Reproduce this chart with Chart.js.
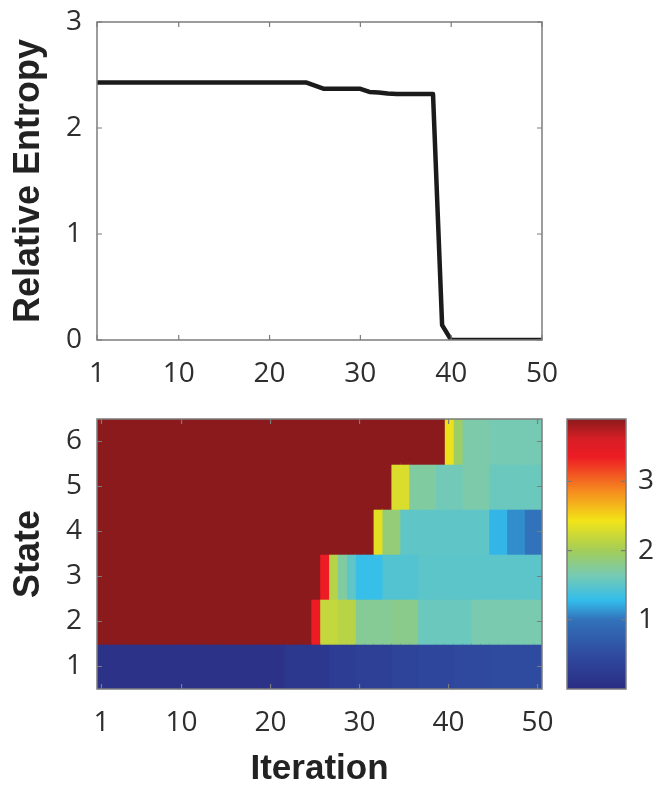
<!DOCTYPE html>
<html><head><meta charset="utf-8">
<script src="https://cdn.jsdelivr.net/npm/chart.js@4.4.1/dist/chart.umd.min.js"></script>
<style>
html,body{margin:0;padding:0;background:#fff;}
#wrap{position:relative;width:658px;height:787px;overflow:hidden;background:#fff;}
canvas{position:absolute;display:block;}
</style></head><body>
<div id="wrap">
<canvas id="lineChart" width="658" height="400" style="left:0;top:0;width:658px;height:400px"></canvas>
<canvas id="heatChart" width="658" height="387" style="left:0;top:400px;width:658px;height:387px"></canvas>
<canvas id="barChart" width="110" height="387" style="left:548px;top:400px;width:110px;height:387px"></canvas>
</div>
<script>
// ---------- data ----------
const iterations = [1,2,3,4,5,6,7,8,9,10,11,12,13,14,15,16,17,18,19,20,21,22,23,24,25,26,27,28,29,30,31,32,33,34,35,36,37,38,39,40,41,42,43,44,45,46,47,48,49,50];
const xTickValues = [1,10,20,30,40,50];
const entropyTicks = [0,1,2,3];
const entropy = [2.43,2.43,2.43,2.43,2.43,2.43,2.43,2.43,2.43,2.43,2.43,2.43,2.43,2.43,2.43,2.43,2.43,2.43,2.43,2.43,2.43,2.43,2.43,2.43,
  2.40,2.37,2.37,2.37,2.37,2.37,2.34,2.335,2.325,2.32,2.32,2.32,2.32,2.32,0.14,
  0,0,0,0,0,0,0,0,0,0,0];
const states = ['1','2','3','4','5','6'];
const state1 = [0.1,0.1,0.1,0.1,0.1,0.1,0.1,0.1,0.1,0.1,0.1,0.1,0.1,0.1,0.1,0.1,0.1,0.1,0.1,0.1,0.1,
  0.2,0.2,0.2,0.2,0.2,0.28,0.28,0.28,0.33,0.33,0.33,0.33,0.38,0.38,0.38,0.42,0.42,0.42,0.42,0.47,0.47,0.47,0.47,0.5,0.5,0.5,0.5,0.5,0.5];
const state2 = [3.9,3.9,3.9,3.9,3.9,3.9,3.9,3.9,3.9,3.9,3.9,3.9,3.9,3.9,3.9,3.9,3.9,3.9,3.9,3.9,3.9,3.9,3.9,3.9,
  3.35,2.18,2.18,2.12,2.12,1.76,1.76,1.76,1.76,1.8,1.8,1.8,1.58,1.58,1.58,1.58,1.58,1.58,1.66,1.66,1.66,1.66,1.66,1.66,1.66,1.66];
const state3 = [3.9,3.9,3.9,3.9,3.9,3.9,3.9,3.9,3.9,3.9,3.9,3.9,3.9,3.9,3.9,3.9,3.9,3.9,3.9,3.9,3.9,3.9,3.9,3.9,3.9,
  3.35,2.1,1.72,1.52,1.3,1.3,1.3,1.45,1.45,1.45,1.45,1.5,1.5,1.5,1.5,1.5,1.5,1.5,1.5,1.5,1.5,1.5,1.5,1.5,1.5];
const state4 = [3.9,3.9,3.9,3.9,3.9,3.9,3.9,3.9,3.9,3.9,3.9,3.9,3.9,3.9,3.9,3.9,3.9,3.9,3.9,3.9,3.9,3.9,3.9,3.9,3.9,3.9,3.9,3.9,3.9,3.9,3.9,
  2.35,1.88,1.88,1.52,1.52,1.52,1.52,1.52,1.52,1.52,1.52,1.52,1.52,1.25,1.25,1.1,1.1,1.0,1.0];
const state5 = [3.9,3.9,3.9,3.9,3.9,3.9,3.9,3.9,3.9,3.9,3.9,3.9,3.9,3.9,3.9,3.9,3.9,3.9,3.9,3.9,3.9,3.9,3.9,3.9,3.9,3.9,3.9,3.9,3.9,3.9,3.9,3.9,3.9,
  2.3,2.3,1.72,1.72,1.72,1.62,1.62,1.62,1.68,1.68,1.68,1.58,1.58,1.58,1.58,1.58,1.58];
const state6 = [3.9,3.9,3.9,3.9,3.9,3.9,3.9,3.9,3.9,3.9,3.9,3.9,3.9,3.9,3.9,3.9,3.9,3.9,3.9,3.9,3.9,3.9,3.9,3.9,3.9,3.9,3.9,3.9,3.9,3.9,3.9,3.9,3.9,3.9,3.9,3.9,3.9,3.9,3.9,
  2.4,1.95,1.68,1.68,1.68,1.64,1.64,1.64,1.64,1.64,1.64];
const colorbarTicks = [1,2,3];
const colorbarMax = 3.9;
const stopValues = [0, 0.5, 1.0, 1.28, 1.65, 2.0, 2.43, 2.87, 3.35, 3.6, 3.9];
const stopColors = ['#2a2c82','#2f4ba0','#3272ba','#33bdec','#78cab2','#a3cd58','#f2e418','#f6891f','#ed1c24','#d91e25','#8a1a1c'];

// ---------- helpers ----------
const stateValues = [state1,state2,state3,state4,state5,state6];
function hexToRgb(h){return [parseInt(h.slice(1,3),16),parseInt(h.slice(3,5),16),parseInt(h.slice(5,7),16)];}
function colormap(v){
  if (v <= stopValues[0]) return stopColors[0];
  for (let k=1;k<stopValues.length;k++){
    if (v <= stopValues[k]){
      const t=(v-stopValues[k-1])/(stopValues[k]-stopValues[k-1]);
      const a=hexToRgb(stopColors[k-1]), b=hexToRgb(stopColors[k]);
      const c=a.map((x,j)=>Math.round(x+(b[j]-x)*t));
      return 'rgb('+c.join(',')+')';
    }
  }
  return stopColors[stopColors.length-1];
}
const TICK_FONT = {family:'"Open Sans", "DejaVu Sans", sans-serif', size:28};
const TITLE_FONT_Y = {family:'"Liberation Sans", Arial, sans-serif', size:36, weight:'bold', lineHeight:1.2};
const TITLE_FONT_X = {family:'"Liberation Sans", Arial, sans-serif', size:35, weight:'bold', lineHeight:1.0};
const TICK_COLOR = '#2e2e2e';
const BOX_COLOR = '#7c7c7c';

function noPadY(s, w){ s.width = w; s.paddingTop = 0; s.paddingBottom = 0; }
function noPadX(s, h){ s.height = h; s.paddingLeft = 0; s.paddingRight = 0; }

const boxPlugin = {
  id:'boxTicks',
  afterDatasetsDraw(chart){
    const {ctx, chartArea:{left,right,top,bottom}} = chart;
    ctx.save();
    ctx.strokeStyle = BOX_COLOR; ctx.lineWidth = 1.5;
    ctx.strokeRect(left, top, right-left, bottom-top);
    ctx.lineWidth = 1.2;
    const L = 5;
    const xs = chart.scales.x, ys = chart.scales.y;
    if (xs && xs.options.display !== false){
      xs.ticks.forEach((t,i)=>{
        const p = xs.getPixelForTick(i);
        ctx.beginPath(); ctx.moveTo(p,bottom); ctx.lineTo(p,bottom-L);
        ctx.moveTo(p,top); ctx.lineTo(p,top+L); ctx.stroke();
      });
    }
    if (ys){
      ys.ticks.forEach((t,i)=>{
        const p = ys.getPixelForTick(i);
        ctx.beginPath(); ctx.moveTo(left,p); ctx.lineTo(left+L,p);
        ctx.moveTo(right,p); ctx.lineTo(right-L,p); ctx.stroke();
      });
    }
    ctx.restore();
  }
};

// ---------- line chart ----------
new Chart(document.getElementById('lineChart'), {
  type:'line',
  data:{ datasets:[{
    data: iterations.map((it,k)=>({x:it, y:entropy[k]})),
    borderColor:'#1b1b1b', borderWidth:4.5, pointRadius:0, tension:0,
    borderJoinStyle:'round', fill:false
  }]},
  options:{
    responsive:false, animation:false, events:[],
    layout:{padding:{top:22, right:116, left:0, bottom:0}},
    plugins:{legend:{display:false}, tooltip:{enabled:false}},
    scales:{
      x:{type:'linear', min:1, max:50,
        afterBuildTicks:(s)=>{s.ticks = xTickValues.map(v=>({value:v}));},
        afterFit:(s)=>noPadX(s,60),
        grid:{display:false, drawTicks:false}, border:{display:false},
        ticks:{font:TICK_FONT, color:TICK_COLOR, padding:17, maxRotation:0, autoSkip:false}},
      y:{type:'linear', min:0, max:3,
        afterBuildTicks:(s)=>{s.ticks = entropyTicks.map(v=>({value:v}));},
        afterFit:(s)=>noPadY(s,97),
        grid:{display:false, drawTicks:false}, border:{display:false},
        ticks:{font:TICK_FONT, color:TICK_COLOR, padding:15},
        title:{display:true, text:'Relative Entropy', font:TITLE_FONT_Y, color:'#222', padding:{top:7, bottom:0}}}
    }
  },
  plugins:[boxPlugin]
});

// ---------- heatmap ----------
const heatDatasets = iterations.map((it,i)=>({
  data: states.map(()=>[it-0.5, it+0.5]),
  backgroundColor: stateValues.map(arr=>colormap(arr[i])),
  borderWidth:0, grouped:false, barPercentage:1, categoryPercentage:1, inflateAmount:0.7
}));
new Chart(document.getElementById('heatChart'), {
  type:'bar',
  data:{labels:states, datasets:heatDatasets},
  options:{
    indexAxis:'y', responsive:false, animation:false, events:[],
    layout:{padding:{top:19, right:116, left:0, bottom:0}},
    plugins:{legend:{display:false}, tooltip:{enabled:false}},
    scales:{
      x:{type:'linear', min:0.5, max:50.5,
        afterBuildTicks:(s)=>{s.ticks = xTickValues.map(v=>({value:v}));},
        afterFit:(s)=>noPadX(s,98),
        grid:{display:false, drawTicks:false}, border:{display:false},
        ticks:{font:TICK_FONT, color:TICK_COLOR, padding:17, maxRotation:0, autoSkip:false},
        title:{display:true, text:'Iteration', font:TITLE_FONT_X, color:'#222', padding:{top:0,bottom:0}}},
      y:{type:'category', reverse:true, offset:true,
        afterFit:(s)=>noPadY(s,97),
        grid:{display:false, drawTicks:false, offset:true}, border:{display:false},
        ticks:{font:TICK_FONT, color:TICK_COLOR, padding:15},
        title:{display:true, text:'State', font:TITLE_FONT_Y, color:'#222', padding:{top:7, bottom:0}}}
    }
  },
  plugins:[boxPlugin]
});

// ---------- colorbar ----------
new Chart(document.getElementById('barChart'), {
  type:'bar',
  data:{labels:[''], datasets:[{
    data:[[0, colorbarMax]],
    backgroundColor:(c)=>{
      const ch=c.chart, ys=ch.scales.y;
      if(!ch.chartArea || !ys) return stopColors[0];
      const g=ch.ctx.createLinearGradient(0, ys.getPixelForValue(0), 0, ys.getPixelForValue(colorbarMax));
      stopValues.forEach((v,k)=>g.addColorStop(v/colorbarMax, stopColors[k]));
      return g;
    },
    borderWidth:0, barPercentage:1, categoryPercentage:1, inflateAmount:0
  }]},
  options:{
    responsive:false, animation:false, events:[],
    layout:{padding:{top:19, left:19, right:0, bottom:98}},
    plugins:{legend:{display:false}, tooltip:{enabled:false}},
    scales:{
      x:{display:false},
      y:{type:'linear', position:'right', min:0, max:colorbarMax,
        afterBuildTicks:(s)=>{s.ticks = colorbarTicks.map(v=>({value:v}));},
        afterFit:(s)=>noPadY(s,32),
        grid:{display:false, drawTicks:false}, border:{display:false},
        ticks:{font:TICK_FONT, color:TICK_COLOR, padding:12}}
    }
  },
  plugins:[boxPlugin]
});
</script>
</body></html>
